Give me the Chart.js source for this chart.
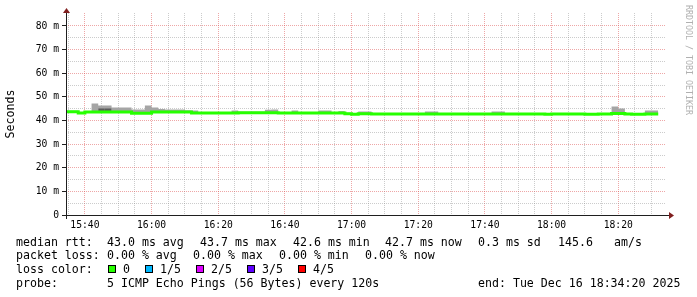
<!DOCTYPE html>
<html>
<head>
<meta charset="utf-8">
<script src="https://cdn.jsdelivr.net/npm/chart.js@4.4.1/dist/chart.umd.min.js"></script>
<style>
  html, body { margin: 0; padding: 0; background: #fff; }
  #wrap { position: relative; width: 697px; height: 297px; overflow: hidden; font-family: "DejaVu Sans Mono", monospace; }
  #wrap canvas { position: absolute; left: 0; top: 0; }
  .t { position: absolute; font-size: 11.6px; line-height: 14px; white-space: pre; color: #000; }
  .box { position: absolute; top: 265px; width: 6px; height: 6px; border: 1px solid #000; }
  #mark { position: absolute; left: 684px; top: 5px; writing-mode: vertical-rl; font-size: 8.3px; line-height: 10px; color: #b0b0b0; white-space: pre; }
</style>
</head>
<body>
<div id="wrap">
  <canvas id="pingChart" width="697" height="297"></canvas>

  <div class="t" style="left:16px;top:235px">median rtt:</div>
  <div class="t" style="left:107px;top:235px">43.0 ms avg</div>
  <div class="t" style="left:200px;top:235px">43.7 ms max</div>
  <div class="t" style="left:293px;top:235px">42.6 ms min</div>
  <div class="t" style="left:385px;top:235px">42.7 ms now</div>
  <div class="t" style="left:478px;top:235px">0.3 ms sd</div>
  <div class="t" style="left:558px;top:235px">145.6</div>
  <div class="t" style="left:614px;top:235px">am/s</div>

  <div class="t" style="left:16px;top:248px">packet loss:</div>
  <div class="t" style="left:107px;top:248px">0.00 % avg</div>
  <div class="t" style="left:193px;top:248px">0.00 % max</div>
  <div class="t" style="left:279px;top:248px">0.00 % min</div>
  <div class="t" style="left:365px;top:248px">0.00 % now</div>

  <div class="t" style="left:16px;top:262px">loss color:</div>
  <div class="box" style="left:108px;background:#26ff00"></div>
  <div class="t" style="left:123px;top:262px">0</div>
  <div class="box" style="left:145px;background:#00b8ff"></div>
  <div class="t" style="left:160px;top:262px">1/5</div>
  <div class="box" style="left:196px;background:#dd00ff"></div>
  <div class="t" style="left:211px;top:262px">2/5</div>
  <div class="box" style="left:247px;background:#5e00ff"></div>
  <div class="t" style="left:262px;top:262px">3/5</div>
  <div class="box" style="left:298px;background:#ff0000"></div>
  <div class="t" style="left:313px;top:262px">4/5</div>

  <div class="t" style="left:16px;top:276px">probe:</div>
  <div class="t" style="left:107px;top:276px">5 ICMP Echo Pings (56 Bytes) every 120s</div>
  <div class="t" style="left:478px;top:276px">end: Tue Dec 16 18:34:20 2025</div>

  <div id="mark">RRDTOOL / TOBI OETIKER</div>
</div>

<script>
// --- data: one value per 2 minute step, first step starts 15:34 ---
const firstStep = 15 * 60 + 34;   // minutes after midnight
const stepMinutes = 2;
const viewStart = 15 * 60 + 34 + 20 / 60;  // 15:34:20
const viewEnd = 18 * 60 + 34 + 20 / 60;    // 18:34:20

// median rtt (ms)
const medianRtt = [
  43.7, 43.7, 43.7, 43.2, 43.6, 43.6, 43.6, 43.6, 43.6, 43.6,
  43.6, 43.1, 43.1, 43.1, 43.6, 43.6, 43.6, 43.6, 43.6, 43.6,
  43.2, 43.2, 43.2, 43.2, 43.2, 43.2, 43.2, 43.3, 43.3, 43.3,
  43.3, 43.3, 43.3, 43.2, 43.2, 43.2, 43.2, 43.2, 43.2, 43.2,
  43.2, 43.2, 43.2, 42.9, 42.6, 42.9, 42.9, 42.7, 42.7, 42.7,
  42.7, 42.7, 42.7, 42.7, 42.7, 42.7, 42.7, 42.7, 42.7, 42.7,
  42.7, 42.7, 42.7, 42.7, 42.7, 42.7, 42.7, 42.7, 42.7, 42.7,
  42.7, 42.7, 42.7, 42.6, 42.7, 42.7, 42.7, 42.7, 42.7, 42.6,
  42.6, 42.7, 42.7, 43.0, 43.0, 42.8, 42.6, 42.6, 42.7,
];

// top of the smoke (slowest ping, ms)
const smokeTop = [
  45.0, 44.1, 44.1, 43.6, 44.0, 47.2, 46.3, 46.3, 45.5, 45.5,
  45.5, 44.7, 44.7, 46.4, 45.5, 44.9, 44.7, 44.7, 44.7, 44.3,
  44.2, 43.6, 43.6, 43.6, 43.6, 43.6, 44.25, 43.7, 43.7, 43.7,
  43.7, 44.5, 44.7, 43.6, 43.6, 44.25, 43.6, 43.6, 43.6, 44.25,
  44.25, 43.6, 43.6, 43.3, 43.0, 43.8, 43.8, 43.1, 43.1, 43.1,
  43.1, 43.1, 43.1, 43.1, 43.1, 43.8, 43.8, 43.1, 43.1, 43.1,
  43.1, 43.1, 43.1, 43.1, 43.1, 43.8, 43.8, 43.1, 43.1, 43.1,
  43.1, 43.1, 43.1, 43.0, 43.1, 43.1, 43.1, 43.1, 43.1, 43.0,
  43.0, 43.1, 43.1, 45.9, 45.1, 43.2, 43.0, 43.0, 44.25,
];

// darker smoke close to the median, only a few steps
const darkSmokeSteps = [5, 6, 41];
const darkSmokeTop = [45.1, 45.1, 43.8];

const yTicks = [0, 5, 10, 15, 20, 25, 30, 35, 40, 45, 50, 55, 60, 65, 70, 75, 80];

const colors = {
  median: "#26ff00",
  smoke: "#a5a5a5",
  darkSmoke: "#5c5c5c",
  grid: "rgba(143,143,143,0.45)",
  majorGrid: "rgba(222,79,79,0.5)",
  axis: "#1f1f1f",
  arrow: "#801f1f",
};

// stepped lines need a closing point at the end of the last step
function stepPoints(values) {
  const pts = values.map((v, i) => ({ x: firstStep + i * stepMinutes, y: v }));
  pts.push({ x: firstStep + values.length * stepMinutes, y: values[values.length - 1] });
  return pts;
}

function sparseStepPoints(steps, values) {
  const pts = [];
  steps.forEach((s, i) => {
    const x0 = firstStep + s * stepMinutes;
    pts.push({ x: x0, y: values[i] });
    pts.push({ x: x0 + stepMinutes, y: values[i] });
    pts.push({ x: x0 + stepMinutes, y: null });
  });
  return pts;
}

function hhmm(m) {
  const h = Math.floor(m / 60);
  const mm = Math.round(m % 60);
  return h + ":" + String(mm).padStart(2, "0");
}

const axisPlugin = {
  id: "axisPlugin",
  afterDraw(chart) {
    const { ctx, chartArea: a } = chart;
    ctx.save();
    ctx.fillStyle = colors.axis;
    ctx.fillRect(a.left, a.bottom, 604, 1);
    ctx.fillRect(a.left, a.top - 1, 1, a.bottom - a.top + 5);
    ctx.fillStyle = colors.arrow;
    ctx.beginPath();
    ctx.moveTo(a.left - 3, a.top);
    ctx.lineTo(a.left + 0.5, a.top - 5);
    ctx.lineTo(a.left + 4, a.top);
    ctx.closePath();
    ctx.fill();
    ctx.beginPath();
    ctx.moveTo(669, a.bottom - 3);
    ctx.lineTo(674, a.bottom + 0.5);
    ctx.lineTo(669, a.bottom + 4);
    ctx.closePath();
    ctx.fill();
    ctx.restore();
  },
};

const tickFont = { family: "'DejaVu Sans Mono', monospace", size: 9.7 };

new Chart(document.getElementById("pingChart"), {
  type: "line",
  data: {
    datasets: [
      {
        label: "smoke",
        data: stepPoints(smokeTop),
        stepped: "after",
        borderColor: "transparent",
        borderWidth: 0,
        pointRadius: 0,
        backgroundColor: colors.smoke,
        fill: 2,
        order: 2,
      },
      {
        label: "dark smoke",
        data: sparseStepPoints(darkSmokeSteps, darkSmokeTop),
        stepped: "after",
        borderColor: "transparent",
        borderWidth: 0,
        pointRadius: 0,
        backgroundColor: colors.darkSmoke,
        fill: 2,
        order: 1,
      },
      {
        label: "median rtt",
        data: stepPoints(medianRtt),
        stepped: "after",
        borderColor: colors.median,
        borderWidth: 3,
        borderCapStyle: "butt",
        pointRadius: 0,
        fill: false,
        order: 0,
      },
    ],
  },
  options: {
    responsive: false,
    animation: false,
    devicePixelRatio: 1,
    events: [],
    layout: { padding: { left: 0, right: 31, top: 13, bottom: 0 } },
    plugins: { legend: { display: false }, tooltip: { enabled: false } },
    scales: {
      x: {
        type: "linear",
        min: viewStart,
        max: viewEnd,
        afterBuildTicks: (scale) => {
          const t = [];
          for (let m = 935; m <= 1110; m += 5) t.push({ value: m });
          scale.ticks = t;
        },
        afterFit: (scale) => { scale.height = 82; },
        ticks: {
          autoSkip: false,
          maxRotation: 0,
          padding: 2,
          color: "#000",
          font: tickFont,
          callback: (v) => (v % 20 === 0 ? hhmm(v) : ""),
        },
        grid: {
          color: (c) => (c.tick && c.tick.value % 20 === 0 ? colors.majorGrid : colors.grid),
          tickColor: "transparent",
          tickLength: 3,
          lineWidth: 1,
        },
        border: { display: false, dash: [1, 1] },
      },
      y: {
        min: 0,
        max: 85.5,
        afterBuildTicks: (scale) => {
          scale.ticks = yTicks.map((v) => ({ value: v }));
        },
        afterFit: (scale) => { scale.width = 66; },
        ticks: {
          autoSkip: false,
          padding: 3,
          color: "#000",
          font: tickFont,
          callback: (v) => (v % 10 !== 0 ? "" : v === 0 ? "0" : v + " m"),
        },
        grid: {
          color: (c) => (c.tick && c.tick.value % 10 === 0 ? colors.majorGrid : colors.grid),
          tickColor: (c) => (c.tick && c.tick.value % 10 === 0 ? colors.axis : "transparent"),
          tickLength: 4,
          lineWidth: 1,
        },
        border: { display: false, dash: [1, 1] },
        title: {
          display: true,
          text: "Seconds",
          color: "#000",
          font: { family: "'DejaVu Sans Mono', monospace", size: 11.6 },
          padding: { top: 4, bottom: 0 },
        },
      },
    },
  },
  plugins: [axisPlugin],
});
</script>
</body>
</html>
